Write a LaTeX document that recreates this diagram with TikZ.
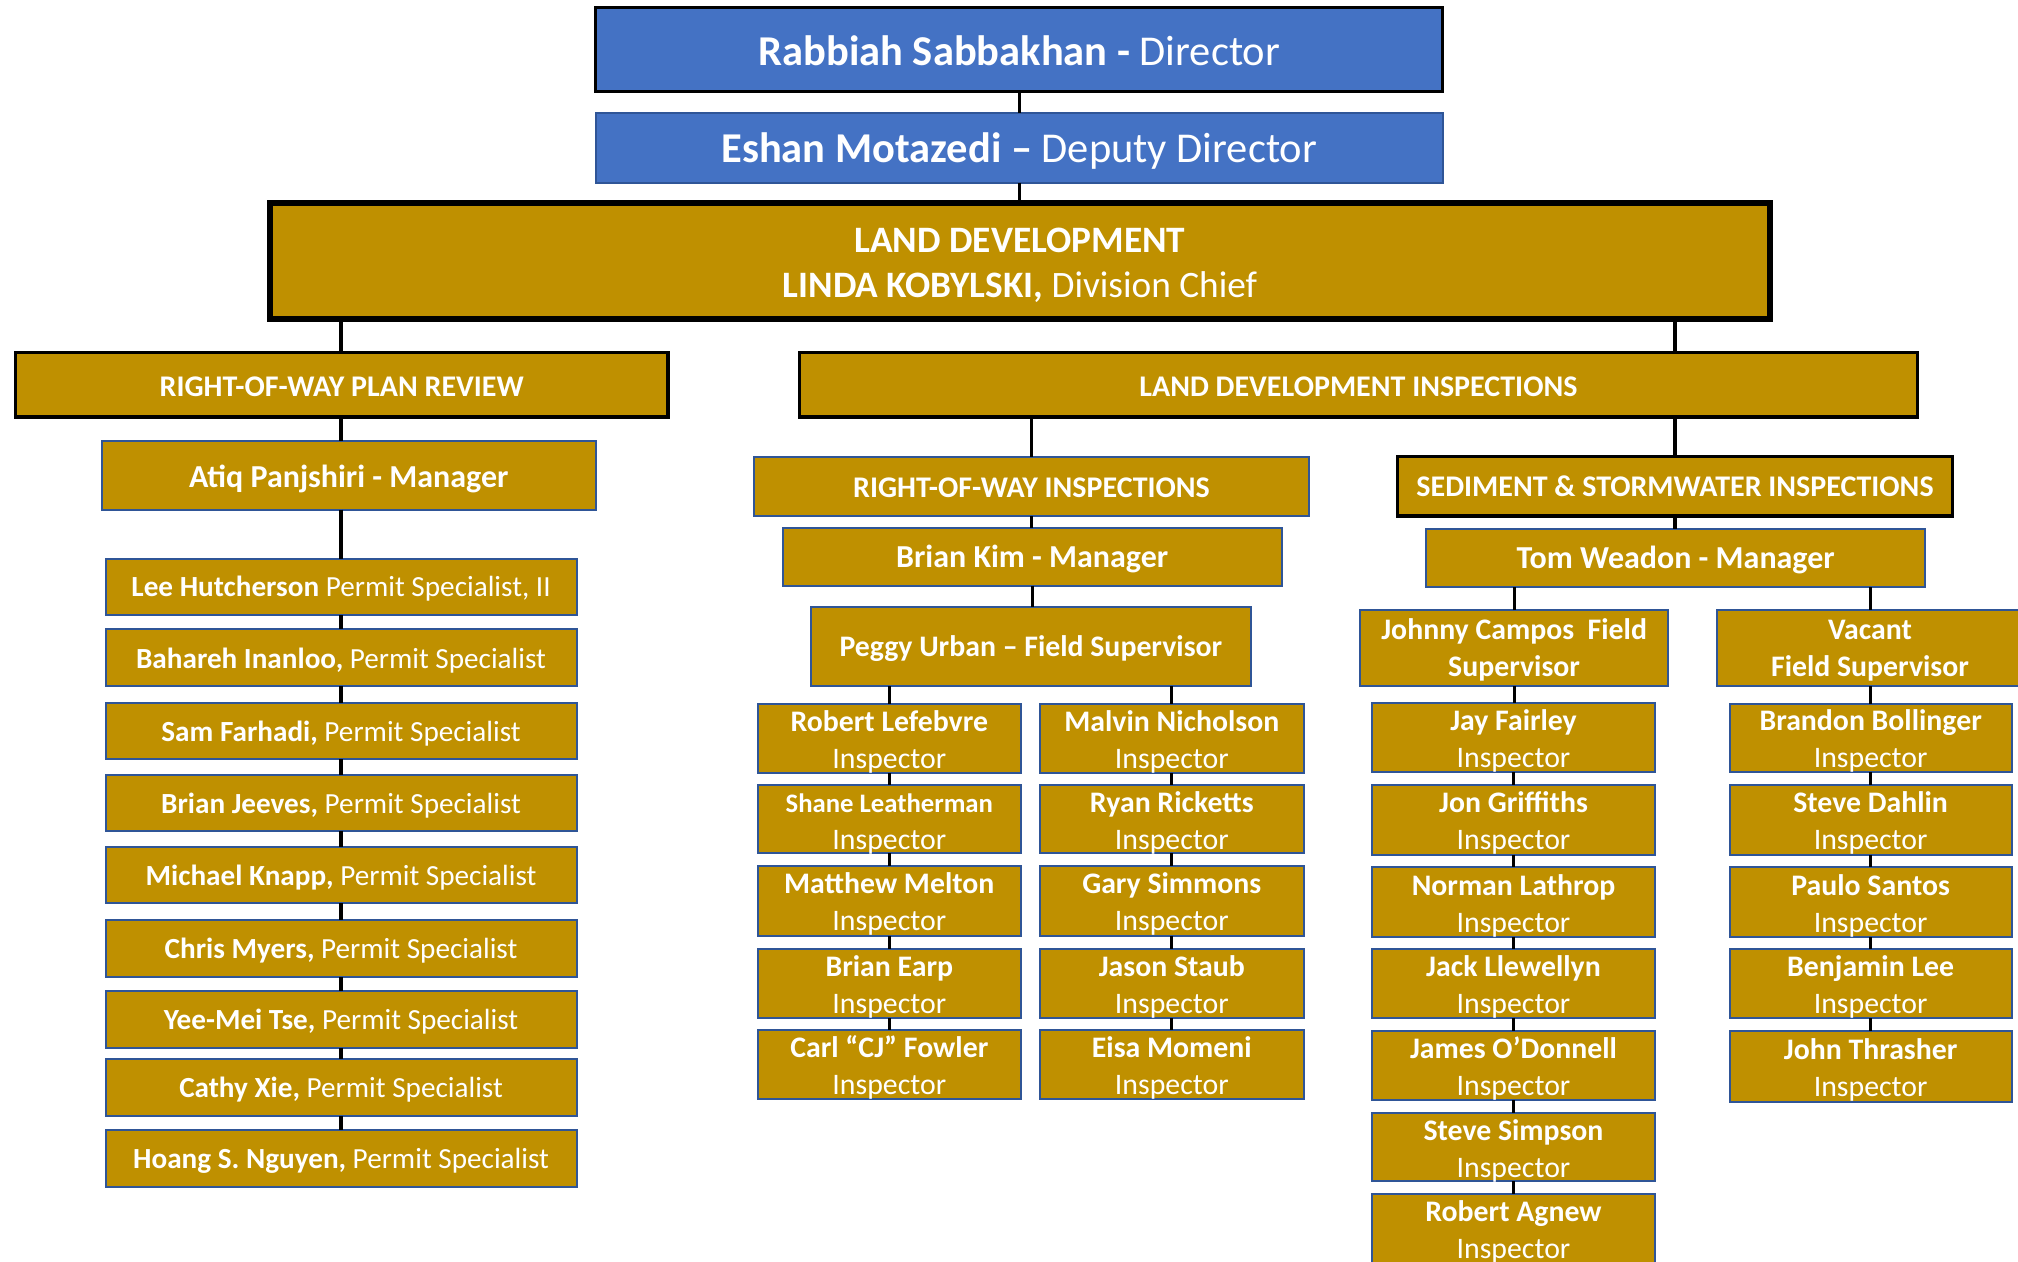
\documentclass[tikz,border=0pt]{standalone}
\usepackage{fontspec}
\setmainfont{Carlito}
\definecolor{gold}{HTML}{BF9000}
\definecolor{blu}{HTML}{4472C4}
\definecolor{bord}{HTML}{2F5597}
\def\u{1.287pt}
\newcommand\B[7]{\node[#1, anchor=north west, minimum width={(#5-#3)*\u}, minimum height={(#6-#4)*\u}] (#2) at (#3,#4) {#7};}
\tikzset{
  gbox/.style={fill=gold, draw=bord, line width=2pt, text=white, align=center, inner sep=0pt, outer sep=0pt},
  kbox/.style={gbox, draw=black, line width=3.2pt},
  bbox/.style={gbox, fill=blu},
  conn/.style={draw=black, line width=3.2pt},
  fA/.style={font=\fontsize{42.5}{50}\selectfont},
  fB/.style={font=\fontsize{37.3}{45}\selectfont},
  fC/.style={font=\fontsize{30}{36}\selectfont},
  fM/.style={font=\fontsize{32}{38}\selectfont},
  fD/.style={font=\fontsize{29.2}{34}\selectfont},
  fE/.style={font=\fontsize{29.8}{37}\selectfont},
}
% lower the visible text by half of #1 inside its box
\newcommand\dn[2]{\raisebox{0pt}[\dimexpr\height+#1\relax][\depth]{#2}}
\newcommand\two[3][8pt]{\raisebox{0pt}[\dimexpr\height+#1-20pt\relax][\dimexpr\depth-20pt\relax]{\begin{tabular}{@{}c@{}}#2\\#3\end{tabular}}}
\newcommand\ins[1]{\two{\textbf{#1}}{Inspector}}
\newcommand\ps[2]{\dn{5pt}{\textbf{#1,} #2}}
\begin{document}
\begin{tikzpicture}[x=1.287pt,y=-1.287pt]
\useasboundingbox (0,0) rectangle (1568,980);
\clip (0,0) rectangle (1568,980);
% top
\B{bbox,draw=black,line width=3.2pt,fA}{dir}{463}{6}{1121}{71}{\dn{2pt}{\textbf{Rabbiah Sabbakhan -} Director}}
\B{bbox,fA}{dep}{463}{88}{1121}{142}{\dn{6pt}{\textbf{Eshan Motazedi --} Deputy Director}}
\B{kbox,line width=6pt,fB}{ld}{210}{158}{1375}{248}{\two[10pt]{\textbf{LAND DEVELOPMENT}}{\textbf{LINDA KOBYLSKI,} Division Chief}}
\B{kbox,fC}{rowpr}{12}{274}{519}{324}{\dn{4pt}{\textbf{RIGHT-OF-WAY PLAN REVIEW}}}
\B{kbox,fC}{ldi}{621}{274}{1490}{324}{\dn{4pt}{\textbf{LAND DEVELOPMENT INSPECTIONS}}}
% plan review
\B{gbox,fM}{atiq}{79}{343}{463}{396}{\dn{6pt}{\textbf{Atiq Panjshiri - Manager}}}
\B{gbox,fD}{lee}{82}{434}{448}{478}{\dn{4pt}{\textbf{Lee Hutcherson} Permit Specialist, II}}
\B{gbox,fD}{bah}{82}{489}{448}{533}{\ps{Bahareh Inanloo}{Permit Specialist}}
\B{gbox,fD}{sam}{82}{546}{448}{590}{\ps{Sam Farhadi}{Permit Specialist}}
\B{gbox,fD}{bj}{82}{602}{448}{646}{\ps{Brian Jeeves}{Permit Specialist}}
\B{gbox,fD}{mk}{82}{658}{448}{702}{\ps{Michael Knapp}{Permit Specialist}}
\B{gbox,fD}{cm}{82}{715}{448}{759}{\ps{Chris Myers}{Permit Specialist}}
\B{gbox,fD}{ym}{82}{770}{448}{814}{\ps{Yee-Mei Tse}{Permit Specialist}}
\B{gbox,fD}{cx}{82}{823}{448}{867}{\ps{Cathy Xie}{Permit Specialist}}
\B{gbox,fD}{hn}{82}{878}{448}{922}{\ps{Hoang S. Nguyen}{Permit Specialist}}
% row inspections
\B{gbox,fC}{rowi}{586}{355}{1017}{401}{\dn{2pt}{\textbf{RIGHT-OF-WAY INSPECTIONS}}}
\B{gbox,fM}{bk}{608}{410}{996}{455}{\dn{4pt}{\textbf{Brian Kim - Manager}}}
\B{gbox,fE}{pu}{630}{472}{972}{533}{\dn{4pt}{\textbf{Peggy Urban -- Field Supervisor}}}
\B{gbox,fE}{rl}{589}{547}{793}{601}{\ins{Robert Lefebvre}}
\B{gbox,fE}{sl}{589}{610}{793}{663}{\two{\fontsize{26.7}{31}\selectfont\textbf{Shane Leatherman}}{Inspector}}
\B{gbox,fE}{mm}{589}{673}{793}{727}{\ins{Matthew Melton}}
\B{gbox,fE}{be}{589}{737}{793}{791}{\ins{Brian Earp}}
\B{gbox,fE}{cf}{589}{800}{793}{854}{\ins{Carl “CJ” Fowler}}
\B{gbox,fE}{mn}{808}{547}{1013}{601}{\ins{Malvin Nicholson}}
\B{gbox,fE}{rr}{808}{610}{1013}{663}{\ins{Ryan Ricketts}}
\B{gbox,fE}{gs}{808}{673}{1013}{727}{\ins{Gary Simmons}}
\B{gbox,fE}{js}{808}{737}{1013}{791}{\ins{Jason Staub}}
\B{gbox,fE}{em}{808}{800}{1013}{854}{\ins{Eisa Momeni}}
% sediment
\B{kbox,fC}{ssi}{1086}{355}{1517}{401}{\textbf{SEDIMENT \& STORMWATER INSPECTIONS}}
\B{gbox,fM}{tw}{1108}{411}{1496}{456}{\dn{4pt}{\textbf{Tom Weadon - Manager}}}
\B{gbox,fE}{jc}{1057}{474}{1296}{533}{\two[5pt]{\textbf{Johnny Campos\ \ Field}}{\textbf{Supervisor}}}
\B{gbox,fE}{vac}{1334}{474}{1572}{533}{\two[5pt]{\textbf{Vacant}}{\textbf{Field Supervisor}}}
\B{gbox,fE}{jf}{1066}{546}{1286}{600}{\ins{Jay Fairley}}
\B{gbox,fE}{jg}{1066}{610}{1286}{664}{\ins{Jon Griffiths}}
\B{gbox,fE}{nl}{1066}{674}{1286}{728}{\ins{Norman Lathrop}}
\B{gbox,fE}{jl}{1066}{737}{1286}{791}{\ins{Jack Llewellyn}}
\B{gbox,fE}{jo}{1066}{801}{1286}{855}{\ins{James O’Donnell}}
\B{gbox,fE}{ss}{1066}{865}{1286}{918}{\ins{Steve Simpson}}
\B{gbox,fE}{ra}{1066}{928}{1286}{982}{\ins{Robert Agnew}}
\B{gbox,fE}{bb}{1344}{547}{1563}{600}{\ins{Brandon Bollinger}}
\B{gbox,fE}{sd}{1344}{610}{1563}{664}{\ins{Steve Dahlin}}
\B{gbox,fE}{pas}{1344}{674}{1563}{728}{\ins{Paulo Santos}}
\B{gbox,fE}{bl}{1344}{737}{1563}{791}{\ins{Benjamin Lee}}
\B{gbox,fE}{jt}{1344}{801}{1563}{856}{\ins{John Thrasher}}
% connectors
\draw[conn] (dir.south) -- (dep.north);
\draw[conn] (dep.south) -- (dep.south |- ld.north);
\draw[conn] (lee.north |- ld.south) -- (lee.north |- rowpr.north);
\draw[conn] (ssi.north |- ld.south) -- (ssi.north |- ldi.north);
\draw[conn] (lee.north |- rowpr.south) -- (lee.north |- atiq.north);
\draw[conn] (lee.north |- atiq.south) -- (lee.north);
\foreach \a/\b in {lee/bah,bah/sam,sam/bj,bj/mk,mk/cm,cm/ym,ym/cx,cx/hn}
  \draw[conn] (\a.south) -- (\b.north);
\draw[conn] (rowi.north) -- (rowi.north |- ldi.south);
\draw[conn] (ssi.north) -- (ssi.north |- ldi.south);
\draw[conn] (rowi.south) -- (rowi.south |- bk.north);
\draw[conn] (bk.south) -- (bk.south |- pu.north);
\draw[conn] (rl.north) -- (rl.north |- pu.south);
\draw[conn] (mn.north) -- (mn.north |- pu.south);
\foreach \a/\b in {rl/sl,sl/mm,mm/be,be/cf,mn/rr,rr/gs,gs/js,js/em}
  \draw[conn] (\a.south) -- (\b.north);
\draw[conn] (ssi.south) -- (ssi.south |- tw.north);
\draw[conn] (jc.north) -- (jc.north |- tw.south);
\draw[conn] (bb.north |- vac.north) -- (bb.north |- tw.south);
\draw[conn] (jc.south) -- (jc.south |- jf.north);
\draw[conn] (bb.north |- vac.south) -- (bb.north);
\foreach \a/\b in {jf/jg,jg/nl,nl/jl,jl/jo,jo/ss,ss/ra,bb/sd,sd/pas,pas/bl,bl/jt}
  \draw[conn] (\a.south) -- (\b.north);
\end{tikzpicture}
\end{document}
